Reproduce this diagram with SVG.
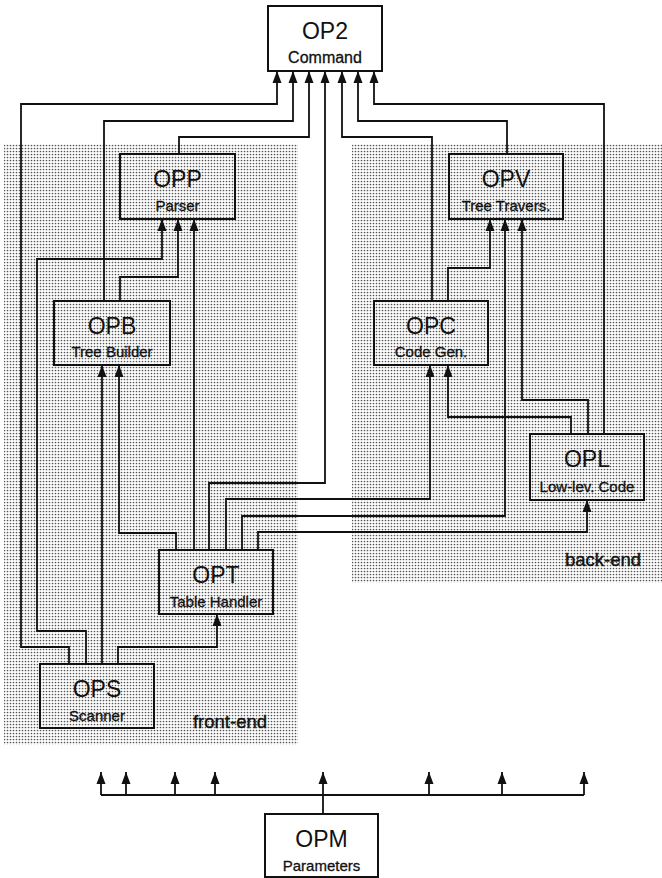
<svg xmlns="http://www.w3.org/2000/svg" width="662" height="878" viewBox="0 0 662 878">
<style>
.box{fill:none;stroke:#111;stroke-width:2}
.ttl{font-family:"Liberation Sans",Arial,sans-serif;font-size:23px;fill:#111;text-anchor:middle}
.sub{font-family:"Liberation Sans",Arial,sans-serif;font-size:15px;fill:#111;stroke:#111;stroke-width:0.3;text-anchor:middle}
.area{font-family:"Liberation Sans",Arial,sans-serif;font-size:18.5px;fill:#111;stroke:#111;stroke-width:0.4;text-anchor:middle}
.c{fill:none;stroke:#111;stroke-width:1.8;marker-end:url(#ah)}
.l{fill:none;stroke:#111;stroke-width:1.8}
</style>
<defs>
<pattern id="dots" width="3" height="3" patternUnits="userSpaceOnUse">
<rect width="3" height="3" fill="#fff"/>
<circle cx="1.5" cy="1.5" r="0.85" fill="#555"/>
</pattern>
<marker id="ah" markerUnits="userSpaceOnUse" markerWidth="12" markerHeight="10" viewBox="0 0 12 10" refX="12" refY="5" orient="auto">
<path d="M0,0.5 L12,5 L0,9.5 z" fill="#111"/>
</marker>
</defs>
<rect width="662" height="878" fill="#fff"/>
<g id="regions">
<rect x="4" y="144" width="294" height="601" fill="url(#dots)"/>
<rect x="352" y="144" width="310" height="439" fill="url(#dots)"/>
<text class="area" x="230" y="728">front-end</text>
<text class="area" x="603" y="566">back-end</text>
</g>
<g id="connectors">
<path class="c" d="M69,664 V647 H21 V104 H277 V71"/>
<path class="c" d="M86,664 V631 H37 V259 H162 V219"/>
<path class="c" d="M102,664 V365"/>
<path class="c" d="M118,664 V647 H217 V614"/>
<path class="c" d="M104,301 V121 H293 V71"/>
<path class="c" d="M120,301 V277 H178 V219"/>
<path class="c" d="M179,154 V137 H309 V71"/>
<path class="c" d="M176,550 V533 H119 V365"/>
<path class="c" d="M194,550 V219"/>
<path class="c" d="M209,550 V483 H325 V71"/>
<path class="c" d="M226,550 V499 H430 V365"/>
<path class="c" d="M242,550 V516 H505 V219"/>
<path class="c" d="M258,550 V532 H587 V500"/>
<path class="c" d="M432,301 V137 H342 V71"/>
<path class="c" d="M448,301 V268 H490 V219"/>
<path class="c" d="M507,154 V121 H358 V71"/>
<path class="c" d="M571,434 V417 H448 V365"/>
<path class="c" d="M588,434 V400 H522 V219"/>
<path class="c" d="M604,434 V104 H374 V71"/>
<path class="l" d="M323,814 V795 M101,795 H584"/>
<path class="c" d="M101,795 V772"/>
<path class="c" d="M126,795 V772"/>
<path class="c" d="M175,795 V772"/>
<path class="c" d="M215,795 V772"/>
<path class="c" d="M323,795 V772"/>
<path class="c" d="M429,795 V772"/>
<path class="c" d="M502,795 V772"/>
<path class="c" d="M584,795 V772"/>
</g>
<g id="OP2"><rect class="box" x="268" y="6" width="114" height="65"/><text class="ttl" x="325" y="39">OP2</text><text class="sub" x="325" y="63" style="font-size:16px">Command</text></g>
<g id="OPP"><rect class="box" x="120" y="154" width="115" height="65"/><text class="ttl" x="177.5" y="187">OPP</text><text class="sub" x="177.5" y="211">Parser</text></g>
<g id="OPV"><rect class="box" x="449" y="154" width="114" height="65"/><text class="ttl" x="506" y="187">OPV</text><text class="sub" x="506" y="211">Tree Travers.</text></g>
<g id="OPB"><rect class="box" x="54" y="301" width="116" height="64"/><text class="ttl" x="112" y="334">OPB</text><text class="sub" x="112" y="357">Tree Builder</text></g>
<g id="OPC"><rect class="box" x="374" y="301" width="114" height="64"/><text class="ttl" x="431" y="334">OPC</text><text class="sub" x="431" y="357">Code Gen.</text></g>
<g id="OPL"><rect class="box" x="530" y="434" width="114" height="66"/><text class="ttl" x="587" y="467">OPL</text><text class="sub" x="587" y="492">Low-lev. Code</text></g>
<g id="OPT"><rect class="box" x="159" y="550" width="114" height="64"/><text class="ttl" x="216" y="583">OPT</text><text class="sub" x="216" y="607">Table Handler</text></g>
<g id="OPS"><rect class="box" x="40" y="664" width="114" height="64"/><text class="ttl" x="97" y="697">OPS</text><text class="sub" x="97" y="721">Scanner</text></g>
<g id="OPM"><rect class="box" x="265" y="814" width="113" height="63"/><text class="ttl" x="321.5" y="847">OPM</text><text class="sub" x="321.5" y="871">Parameters</text></g>
</svg>
